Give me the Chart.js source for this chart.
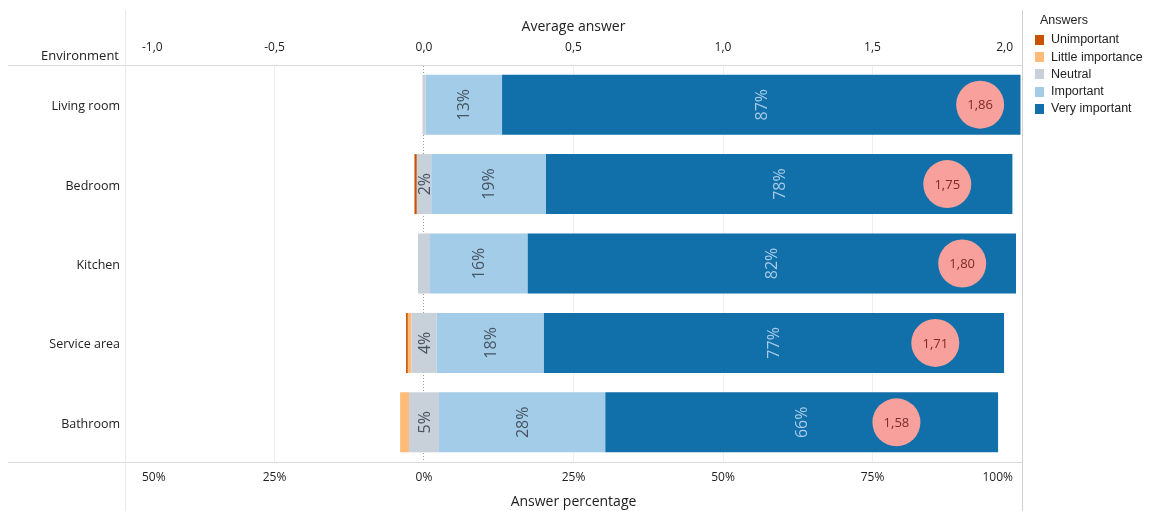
<!DOCTYPE html>
<html>
<head>
<meta charset="utf-8">
<script src="https://cdn.jsdelivr.net/npm/chart.js@4/dist/chart.umd.min.js"></script>
<style>
  html, body { margin: 0; padding: 0; background: #fff; }
  #wrap { width: 1155px; height: 511px; position: relative; }
</style>
</head>
<body>
<div id="wrap"><canvas id="c" width="1155" height="511"></canvas></div>
<script>
// Survey: how important each environment is, share of answers (%) and average answer
const environments = ['Living room', 'Bedroom', 'Kitchen', 'Service area', 'Bathroom'];
const unimportant = [0, 0.4, 0, 0.3, 0];
const littleImportance = [0, 0, 0, 0.6, 1.5];
const neutral = [0.5, 2.4, 2.0, 4.2, 5.0];
const important = [12.8, 19.2, 16.3, 17.9, 27.8];
const veryImportant = [86.7, 78.0, 81.7, 77.0, 65.7];
const averageAnswer = [1.86, 1.75, 1.80, 1.71, 1.58];

const answerNames = ['Unimportant', 'Little importance', 'Neutral', 'Important', 'Very important'];
const answerColors = ['#c85200', '#ffbc79', '#c8d0d9', '#a3cce9', '#1170aa'];
const percentTicks = [-50, -25, 0, 25, 50, 75, 100];
const averageTicks = [-1, -0.5, 0, 0.5, 1, 1.5, 2];

const FONT = "'Open Sans', sans-serif";
const TEXT = '#222222';

function comma(v, d) { return v.toFixed(d).replace('.', ','); }

// Frame lines, zero reference line, axis texts, segment labels and legend
const decorations = {
  id: 'decorations',
  beforeDatasetsDraw(chart) {
    const { ctx, chartArea: a } = chart;
    const x = chart.scales.x;
    ctx.save();
    ctx.lineWidth = 1;
    ctx.strokeStyle = '#d9d9d9';
    ctx.beginPath();
    ctx.moveTo(8, a.top + 0.5); ctx.lineTo(a.right + 1, a.top + 0.5);
    ctx.moveTo(8, a.bottom + 0.5); ctx.lineTo(a.right + 1, a.bottom + 0.5);
    ctx.stroke();
    ctx.strokeStyle = '#e8e8e8';
    ctx.beginPath();
    ctx.moveTo(Math.round(a.left) + 0.5, 10); ctx.lineTo(Math.round(a.left) + 0.5, 511);
    ctx.stroke();
    ctx.strokeStyle = '#d0d0d0';
    ctx.beginPath();
    ctx.moveTo(Math.round(a.right) + 0.5, 10); ctx.lineTo(Math.round(a.right) + 0.5, 511);
    ctx.stroke();
    // dotted zero line
    const zx = Math.round(x.getPixelForValue(0)) - 0.5;
    ctx.strokeStyle = '#9a9a9a';
    ctx.setLineDash([1, 2]);
    ctx.beginPath();
    ctx.moveTo(zx, a.top + 1); ctx.lineTo(zx, a.bottom);
    ctx.stroke();
    ctx.restore();
  },
  afterDatasetsDraw(chart) {
    const { ctx } = chart;
    const x = chart.scales.x, y = chart.scales.y;
    ctx.save();
    ctx.font = '16px ' + FONT;
    ctx.textAlign = 'center';
    ctx.textBaseline = 'middle';
    environments.forEach((env, i) => {
      const cy = y.getPixelForValue(i);
      const n0 = -neutral[i] / 2, n1 = neutral[i] / 2;
      const segs = [
        [n0, n1, neutral[i], '#475461'],
        [n1, n1 + important[i], important[i], '#475461'],
        [n1 + important[i], n1 + important[i] + veryImportant[i], veryImportant[i], '#a9cbe8']
      ];
      segs.forEach(([s, e, v, col]) => {
        const px0 = x.getPixelForValue(s), px1 = x.getPixelForValue(e);
        if (px1 - px0 < 13) return;
        ctx.save();
        ctx.translate((px0 + px1) / 2, cy);
        ctx.rotate(-Math.PI / 2);
        ctx.fillStyle = col;
        ctx.fillText(Math.round(v) + '%', 0, 1);
        ctx.restore();
      });
    });
    // average answer values inside the circles
    const meta = chart.getDatasetMeta(chart.data.datasets.length - 1);
    ctx.font = '13px ' + FONT;
    ctx.fillStyle = '#7b2b2b';
    meta.data.forEach((pt, i) => {
      ctx.fillText(comma(averageAnswer[i], 2), pt.x, pt.y + 1);
    });
    ctx.restore();
  },
  afterDraw(chart) {
    const { ctx, chartArea: a } = chart;
    const x = chart.scales.x, x2 = chart.scales.x2;
    ctx.save();
    ctx.fillStyle = TEXT;
    ctx.textBaseline = 'middle';
    const drawTicks = (ticks, scale, fmt, ty) => {
      ticks.forEach((v, k) => {
        let px = scale.getPixelForValue(v);
        if (k === 0) { ctx.textAlign = 'left'; px = a.left + 17; }
        else if (k === ticks.length - 1) { ctx.textAlign = 'right'; px = a.right - 9; }
        else ctx.textAlign = 'center';
        ctx.fillText(fmt(v), px, ty);
      });
    };
    ctx.font = '12px ' + FONT;
    drawTicks(averageTicks, x2, v => comma(v, 1), 48);
    drawTicks(percentTicks, x, v => Math.abs(v) + '%', 478);
    ctx.font = '14px ' + FONT;
    ctx.textAlign = 'center';
    const mid = (a.left + a.right) / 2;
    ctx.fillText('Average answer', mid, 27);
    ctx.fillText('Answer percentage', mid, 502);
    ctx.font = '13px ' + FONT;
    ctx.textAlign = 'right';
    ctx.fillText('Environment', 119, 56);

    // legend
    ctx.font = "12.5px 'Liberation Sans', Arial, sans-serif";
    ctx.textAlign = 'left';
    ctx.fillStyle = TEXT;
    ctx.fillText('Answers', 1040, 21);
    answerNames.forEach((name, k) => {
      const ly = 40 + k * 17.2;
      ctx.fillStyle = answerColors[k];
      ctx.fillRect(1035, Math.round(ly - 5), 9, 10);
      ctx.fillStyle = TEXT;
      ctx.fillText(name, 1051, ly);
    });
    ctx.restore();
  }
};

function build() {
  Chart.defaults.font.family = FONT;
  const bar = (label, data, color) => ({
    type: 'bar', label, data, backgroundColor: color, borderWidth: 0,
    xAxisID: 'x', yAxisID: 'y', order: 1,
    categoryPercentage: 1, barPercentage: 0.756
  });
  new Chart(document.getElementById('c'), {
    data: {
      labels: environments,
      datasets: [
        bar('Neutral', neutral.map(v => -v / 2), answerColors[2]),
        bar('Little importance', littleImportance.map(v => -v), answerColors[1]),
        bar('Unimportant', unimportant.map(v => -v), answerColors[0]),
        bar('Neutral ', neutral.map(v => v / 2), answerColors[2]),
        bar('Important', important, answerColors[3]),
        bar('Very important', veryImportant, answerColors[4]),
        {
          type: 'scatter', label: 'Average answer',
          data: environments.map((e, i) => ({ x: averageAnswer[i], y: e })),
          xAxisID: 'x2', yAxisID: 'y', order: 0,
          pointRadius: 24, pointHoverRadius: 24,
          backgroundColor: '#f8a09b', borderColor: '#f8a09b', borderWidth: 0
        }
      ]
    },
    options: {
      indexAxis: 'y',
      responsive: false,
      animation: false,
      devicePixelRatio: 1,
      layout: { padding: { left: 0, right: 133, top: 0, bottom: 0 } },
      plugins: { legend: { display: false }, tooltip: { enabled: false } },
      scales: {
        x: {
          type: 'linear', position: 'bottom', min: -50, max: 100, stacked: true,
          grid: { display: false, drawTicks: false }, border: { display: false },
          ticks: { display: false, stepSize: 25 },
          afterFit(s) { s.height = 49; }
        },
        x2: {
          type: 'linear', position: 'top', min: -1, max: 2,
          grid: {
            drawTicks: false, lineWidth: 1,
            color: c => (c.tick && (c.tick.value === 0 || c.tick.value === -1 || c.tick.value === 2)) ? 'rgba(0,0,0,0)' : '#efefef'
          },
          border: { display: false },
          ticks: { display: false, stepSize: 0.5 },
          afterFit(s) { s.height = 65; }
        },
        y: {
          type: 'category', stacked: true,
          grid: { display: false, drawTicks: false }, border: { display: false },
          ticks: { color: TEXT, font: { family: FONT, size: 12.5 }, padding: 5, labelOffset: 2 },
          afterFit(s) { s.width = 125; }
        }
      }
    },
    plugins: [decorations]
  });
}

const fontsReady = document.fonts && document.fonts.load
  ? Promise.all([
      document.fonts.load("12px 'Open Sans'"),
      document.fonts.load("12px 'Liberation Sans'")
    ]).catch(() => {})
  : Promise.resolve();
fontsReady.then(build);
</script>
</body>
</html>
